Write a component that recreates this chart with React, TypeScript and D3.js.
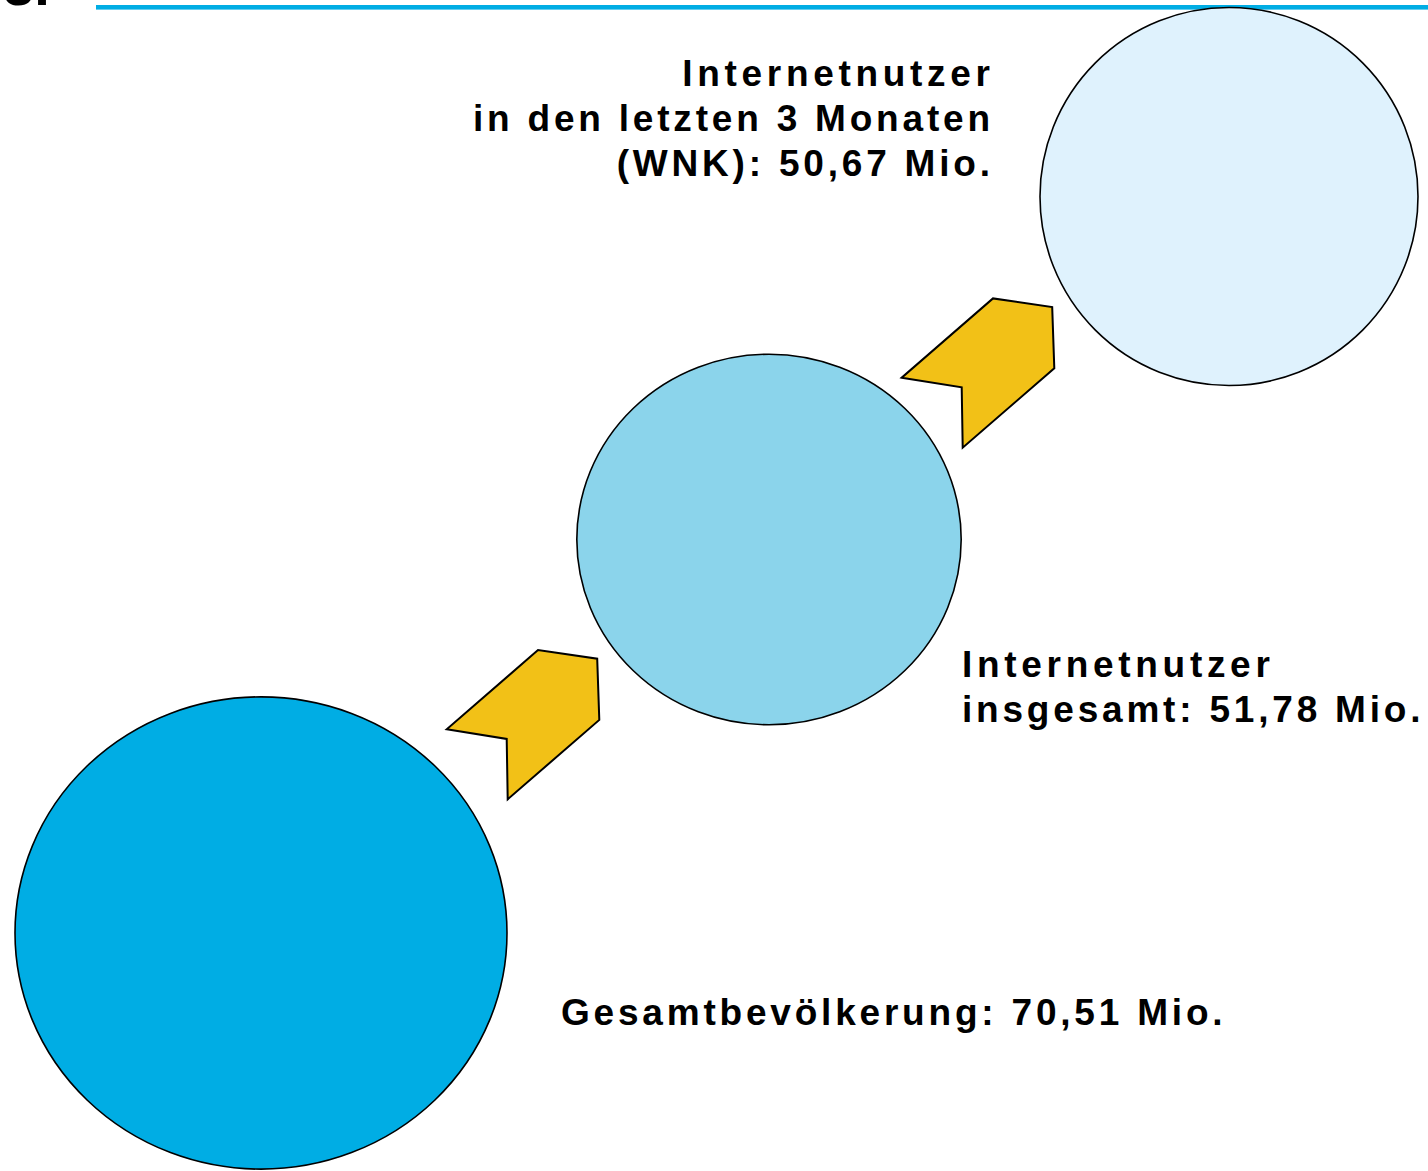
import React from "react";
import * as d3 from "d3";

// ---- data ----
const categories = ["Gesamtbevölkerung", "Internetnutzer insgesamt", "Internetnutzer in den letzten 3 Monaten (WNK)"];
const valuesMio = [70.51, 51.78, 50.67];
const labelLines = [
  ["Gesamtbevölkerung: 70,51 Mio."],
  ["Internetnutzer", "insgesamt: 51,78 Mio."],
  ["Internetnutzer", "in den letzten 3 Monaten", "(WNK): 50,67 Mio."],
];
const fills = ["#00ADE4", "#8BD4EB", "#DFF2FD"];

// ---- layout ----
const W = 1428;
const H = 1171;
const circleLayout = [
  { cx: 261, cy: 933, aspect: 0.96 },
  { cx: 769, cy: 539.5, aspect: 0.964 },
  { cx: 1229, cy: 196.5, aspect: 1.0 },
];
const labelLayout = [
  { x: 561, y: 1025, anchor: "start" },
  { x: 962, y: 677, anchor: "start" },
  { x: 990, y: 86, anchor: "end" },
];
const arrowLayout = [
  { x: 446.7, y: 729.3 },
  { x: 901.7, y: 377.7 },
];
const arrowShape: [number, number][] = [
  [0, 0], [60, 9.6], [61, 70], [152.6, -9.4], [150.5, -70.6], [91.3, -79.3],
];

const FONT = "'Liberation Sans', Arial, Helvetica, sans-serif";
const FS = 37;
const LS = 3.8;
const LS_WIDE = 4.7;
const LH = 45;

export default function App() {
  const r = d3.scaleLinear().domain([50.67, 70.51]).range([189, 246]);
  const line = d3.line().curve(d3.curveLinearClosed);
  return (
    <svg
      width={W}
      height={H}
      viewBox={`0 0 ${W} ${H}`}
      style={{ position: "absolute", left: 0, top: 0, background: "#fff" }}
    >
      <rect x={0} y={0} width={W} height={H} fill="#fff" />
      {/* partial heading at top-left (cut off in the reference) */}
      <text x={3} y={5} fontFamily={FONT} fontWeight="bold" fontSize={56} fill="#000">3.</text>
      <rect x={96} y={5} width={W - 96} height={4.6} fill="#00ADE4" />

      {categories.map((c, i) => {
        const rx = r(valuesMio[i]);
        const L = circleLayout[i];
        return (
          <ellipse
            key={c}
            cx={L.cx}
            cy={L.cy}
            rx={rx}
            ry={rx * L.aspect}
            fill={fills[i]}
            stroke="#000"
            strokeWidth={1.6}
          />
        );
      })}

      {arrowLayout.map((a, i) => (
        <path
          key={i}
          d={line(arrowShape.map(([x, y]) => [a.x + x, a.y + y]) as [number, number][]) || ""}
          fill="#F2C117"
          stroke="#000"
          strokeWidth={2}
          strokeLinejoin="miter"
        />
      ))}

      {labelLines.map((lines, i) => {
        const L = labelLayout[i];
        return lines.map((t, j) => {
          const ls = t === "Internetnutzer" ? LS_WIDE : LS;
          return (
            <text
              key={`${i}-${j}`}
              x={L.anchor === "end" ? L.x + ls : L.x}
              y={L.y + j * LH}
              fontFamily={FONT}
              fontWeight="bold"
              fontSize={FS}
              letterSpacing={ls}
              fill="#000"
              textAnchor={L.anchor as any}
            >
              {t}
            </text>
          );
        });
      })}
    </svg>
  );
}
